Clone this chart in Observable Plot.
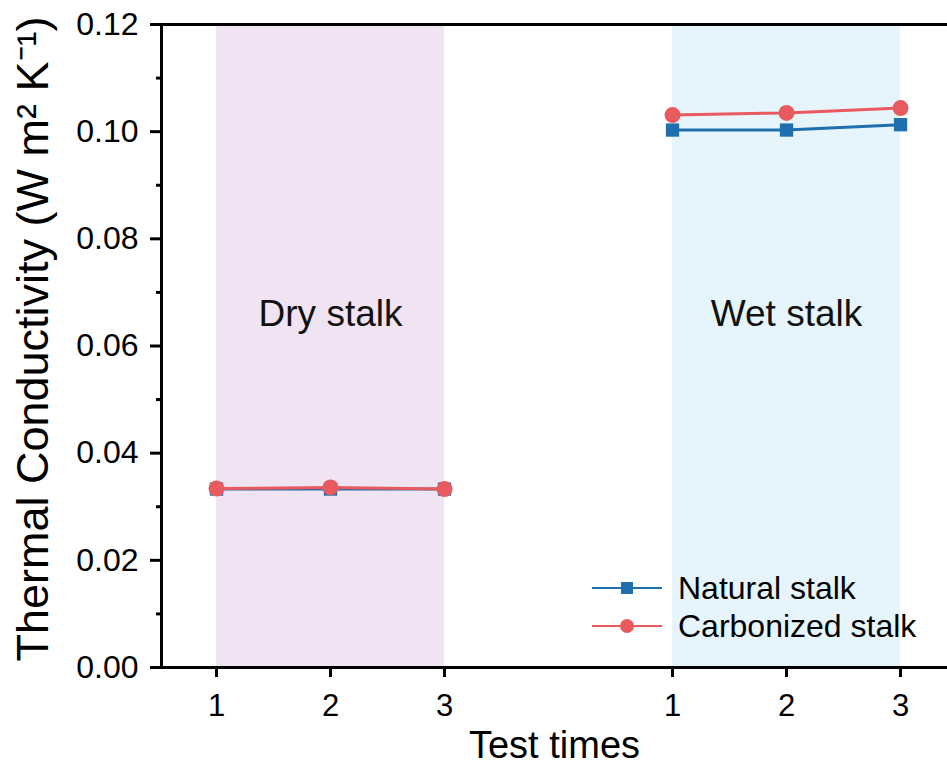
<!DOCTYPE html>
<html>
<head>
<meta charset="utf-8">
<script src="https://cdn.jsdelivr.net/npm/d3@7"></script>
<script src="https://cdn.jsdelivr.net/npm/@observablehq/plot@0.6"></script>
<style>
  html, body { margin: 0; padding: 0; background: #fff; }
  #wrap { position: relative; width: 947px; height: 767px; font-family: "Liberation Sans", Arial, sans-serif; }
  #legend { position: absolute; left: 590px; top: 569px; }
  .li { display: flex; align-items: center; height: 38px; font-size: 32px; color: #000; }
  .li svg { margin-right: 16px; }
</style>
</head>
<body>
<div id="wrap"></div>
<script>
// ---- data ----
const testTimes = [1, 2, 3];
const groups = ["Dry stalk", "Wet stalk"];
const groupOffset = [0, 4]; // dry at 1..3, wet at 5..7 on the shared axis
const seriesNames = ["Natural stalk", "Carbonized stalk"];
const naturalDry = [0.0333, 0.0333, 0.0333];
const naturalWet = [0.1003, 0.1003, 0.1013];
const carbonDry = [0.0334, 0.0336, 0.0333];
const carbonWet = [0.1031, 0.1035, 0.1044];
const yTicks = [0, 0.02, 0.04, 0.06, 0.08, 0.10, 0.12];
const yMinorTicks = [0.01, 0.03, 0.05, 0.07, 0.09, 0.11];
const labelY = 0.066;
const colors = ["#1f6fae", "#e85a5e"];
const shade = ["#f0e4f2", "#e6f4fb"];

// ---- build table ----
const rows = [];
const sets = [[naturalDry, naturalWet], [carbonDry, carbonWet]];
sets.forEach((s, si) => {
  s.forEach((vals, gi) => {
    vals.forEach((v, i) => rows.push({
      series: seriesNames[si], group: groups[gi],
      x: testTimes[i] + groupOffset[gi], y: v
    }));
  });
});
const regions = groups.map((g, gi) => ({
  group: g,
  x1: testTimes[0] + groupOffset[gi],
  x2: testTimes[testTimes.length - 1] + groupOffset[gi],
  xm: (testTimes[0] + testTimes[testTimes.length - 1]) / 2 + groupOffset[gi],
  fill: shade[gi]
}));
const xTicks = groupOffset.flatMap(o => testTimes.map(t => t + o));
const xDomain = [0.5175, 7.412];

const chart = Plot.plot({
  width: 947,
  height: 767,
  marginLeft: 161,
  marginRight: 0,
  marginTop: 24,
  marginBottom: 100,
  style: { fontFamily: "'Liberation Sans', Arial, sans-serif", background: "transparent", overflow: "visible" },
  x: { domain: xDomain, axis: null },
  y: { domain: [0, 0.12], axis: null },
  marks: [
    Plot.rect(regions, { x1: "x1", x2: "x2", y1: 0, y2: 0.12, fill: "fill" }),
    Plot.text(regions, { x: "xm", y: labelY, text: "group", fontSize: 37, fill: "#111" }),
    // minor y ticks
    Plot.axisY({ ticks: yMinorTicks, tickSize: 5, strokeWidth: 3, text: null, label: null }),
    // major y ticks
    Plot.axisY({ ticks: yTicks, tickSize: 11, strokeWidth: 3, tickPadding: 12, fontSize: 32,
      tickFormat: d3.format(".2f"), label: null }),
    Plot.axisX({ ticks: xTicks, tickSize: 10, strokeWidth: 3, tickPadding: 16, fontSize: 31,
      tickFormat: d => d > 4 ? d - 4 : d, label: null }),
    // frame lines
    Plot.ruleY([0], { stroke: "#000", strokeWidth: 3 }),
    Plot.ruleY([0.12], { stroke: "#000", strokeWidth: 3 }),
    Plot.ruleX([xDomain[0]], { stroke: "#000", strokeWidth: 3, y1: 0, y2: 0.12 }),
    // data lines
    Plot.line(rows.filter(d => d.series === seriesNames[0]), { x: "x", y: "y", z: "group", stroke: colors[0], strokeWidth: 3 }),
    Plot.dot(rows.filter(d => d.series === seriesNames[0]), { x: "x", y: "y", symbol: "square", r: 7.5, fill: colors[0] }),
    Plot.line(rows.filter(d => d.series === seriesNames[1]), { x: "x", y: "y", z: "group", stroke: colors[1], strokeWidth: 3 }),
    Plot.dot(rows.filter(d => d.series === seriesNames[1]), { x: "x", y: "y", symbol: "circle", r: 8, fill: colors[1] }),
    // axis titles
    Plot.text(["Thermal Conductivity (W m\u00B2 K\u207B\u00B9)"], { frameAnchor: "left", textAnchor: "middle", text: d => d, rotate: -90, dx: -128, dy: -7, fontSize: 45 }),
    Plot.text(["Test times"], { frameAnchor: "bottom", text: d => d, lineAnchor: "top", dy: 64, fontSize: 38 })
  ]
});

const wrap = document.getElementById("wrap");
wrap.appendChild(chart);

// legend
const legend = document.createElement("div");
legend.id = "legend";
seriesNames.forEach((name, i) => {
  const item = document.createElement("div");
  item.className = "li";
  const marker = i === 0
    ? `<rect x="31" y="8" width="12" height="12" fill="${colors[i]}"/>`
    : `<circle cx="37" cy="14" r="7" fill="${colors[i]}"/>`;
  item.innerHTML = `<svg width="72" height="28"><line x1="2" x2="72" y1="14" y2="14" stroke="${colors[i]}" stroke-width="2"/>${marker}</svg><span>${name}</span>`;
  legend.appendChild(item);
});
wrap.appendChild(legend);
</script>
</body>
</html>
